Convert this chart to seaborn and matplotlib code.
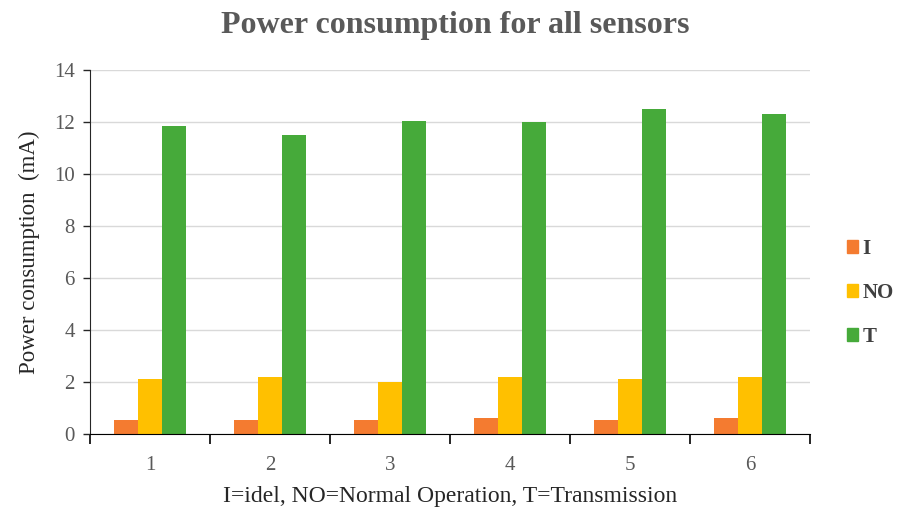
import pandas as pd
import matplotlib.pyplot as plt
import seaborn as sns
from matplotlib.ticker import FixedLocator, NullFormatter

sensors = ["1", "2", "3", "4", "5", "6"]
idle = [0.55, 0.55, 0.55, 0.6, 0.55, 0.6]
normal = [2.1, 2.2, 2.0, 2.2, 2.1, 2.2]
transmission = [11.85, 11.5, 12.05, 12.0, 12.5, 12.3]
modes = ["I", "NO", "T"]
colors = ["#F47B30", "#FFC000", "#46AA3A"]


def main():
    df = pd.DataFrame({
        "sensor": sensors * 3,
        "mode": ["I"] * 6 + ["NO"] * 6 + ["T"] * 6,
        "value": idle + normal + transmission,
    })

    sns.set_style("white")
    plt.rcParams["font.family"] = ["Liberation Serif", "DejaVu Serif"]

    fig = plt.figure(figsize=(9.01, 5.16), dpi=100)
    ax = fig.add_axes([90 / 901, 1 - 434 / 516, 720 / 901, 364 / 516])

    sns.barplot(data=df, x="sensor", y="value", hue="mode", hue_order=modes,
                palette=colors, width=0.6, saturation=1, linewidth=0, ax=ax, legend=False)

    ax.set_ylim(0, 14)
    ax.set_xlim(-0.5, 5.5)
    ax.set_yticks(range(0, 15, 2))
    ax.grid(axis="y", color="#d9d9d9", linewidth=1)
    ax.set_axisbelow(True)
    for s in ["top", "right"]:
        ax.spines[s].set_visible(False)
    ax.spines["left"].set_color("#262626")
    ax.spines["bottom"].set_color("black")

    ax.tick_params(axis="y", left=True, length=5, width=1, color="#262626",
                   labelsize=15, labelcolor="#595959", pad=6)
    ax.tick_params(axis="x", which="major", length=0, labelsize=15, labelcolor="#595959", pad=16)
    ax.xaxis.set_minor_locator(FixedLocator([i + 0.5 for i in range(-1, 6)]))
    ax.xaxis.set_minor_formatter(NullFormatter())
    ax.tick_params(axis="x", which="minor", bottom=True, length=7, width=1.2,
                   color="black", direction="out")

    ax.set_xlabel("I=idel, NO=Normal Operation, T=Transmission", fontsize=17,
                  color="#262626", labelpad=8)
    ax.set_ylabel("Power consumption  (mA)", fontsize=16.5, color="#262626", labelpad=10)
    fig.suptitle("Power consumption for all sensors", x=0.505, y=0.978, fontsize=23,
                 fontweight="bold", color="#595959")

    handles = [plt.Rectangle((0, 0), 1, 1, color=c) for c in colors]
    leg = fig.legend(handles, modes, loc="center left", bbox_to_anchor=(828 / 901, 1 - 293 / 516),
                     frameon=False, handlelength=0.55, handleheight=0.55, handletextpad=0.2,
                     labelspacing=1.15, prop={"weight": "bold", "size": 15})
    for t in leg.get_texts():
        t.set_color("#404040")

    fig.savefig("out.png", dpi=100)


if __name__ == "__main__":
    main()
